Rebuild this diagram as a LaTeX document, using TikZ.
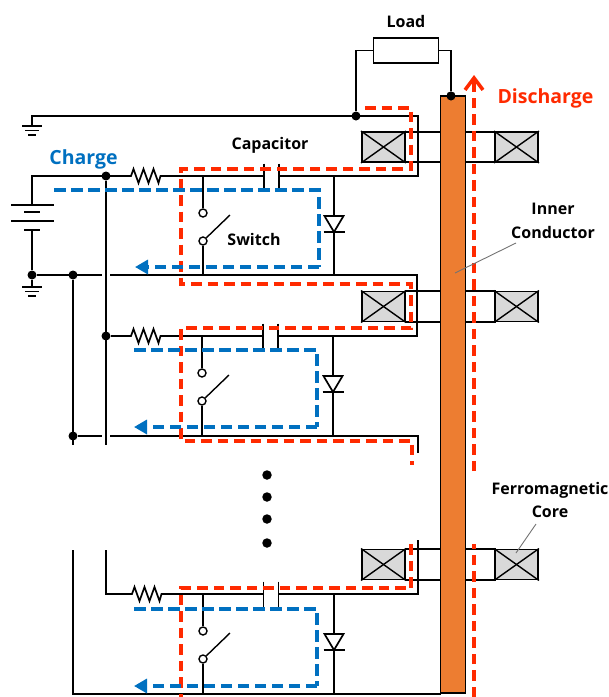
\documentclass[tikz,border=0pt]{standalone}
\usepackage{fontspec}
\setmainfont{Open Sans}
\usetikzlibrary{arrows.meta}
\definecolor{rd}{HTML}{FF2A00}
\definecolor{bl}{HTML}{0070C0}
\definecolor{org}{HTML}{ED7D31}
\definecolor{cg}{HTML}{D9D9D9}
\tikzset{
  wire/.style={line width=1.7pt,black},
  jdot/.style={circle,fill=black,inner sep=0pt,minimum size=9pt},
  bigdot/.style={circle,fill=black,inner sep=0pt,minimum size=9.5pt},
  contact/.style={circle,draw=black,fill=white,line width=1.4pt,inner sep=0pt,minimum size=8pt},
  corebox/.style={draw=black,fill=cg,line width=1.9pt,minimum width=43pt,minimum height=30pt,inner sep=0pt},
  redpath/.style={line width=3.5pt,rd,dash pattern=on 10.5pt off 6pt},
  bluepath/.style={line width=3.5pt,bl,dash pattern=on 11.5pt off 5.5pt},
  lbl/.style={font=\fontsize{16}{18}\selectfont\bfseries,inner sep=0pt,text=black},
  biglbl/.style={font=\fontsize{19.5}{22}\selectfont\bfseries,inner sep=0pt},
  leader/.style={line width=0.9pt,black!55},
  bluetip/.style={-{Triangle[length=13pt,width=14pt]}}
}
% one stage: prefix, wire y, return y, switch x, capacitor left x, diode x, resistor x
\newcommand{\stagecell}[7]{
  % resistor
  \coordinate (#1rl) at (#7,#2);
  \coordinate (#1rr) at (#7+35,#2);
  \draw[wire] (#1rl) -- ++(3,0) -- ++(2.5,-7) -- ++(5,14) -- ++(5,-14) -- ++(5,14) -- ++(5,-14) -- ++(5,14) -- ++(2,-7) -- (#1rr);
  % capacitor
  \coordinate (#1cl) at (#5,#2);
  \coordinate (#1cr) at (#5+15,#2);
  \draw[wire] (#5,#2-12.5) -- (#5,#2+12.5);
  \draw[wire] (#5+15,#2-12.5) -- (#5+15,#2+12.5);
  % switch
  \coordinate (#1st) at (#4,#2);
  \coordinate (#1sb) at (#4,#3);
  \node[contact] (#1s1) at (#4,#2+37) {};
  \node[contact] (#1s2) at (#4,#2+65) {};
  \draw[wire] (#1st) -- (#1s1);
  \draw[wire] (#1s2) -- (#1sb);
  \draw[line width=1.4pt] (#1s2) -- (#4+27,#2+39);
  % diode
  \coordinate (#1dt) at (#6,#2);
  \coordinate (#1db) at (#6,#3);
  \coordinate (#1da) at (#6,#2+40);
  \coordinate (#1dk) at (#6,#2+56);
  \draw[wire] (#1dt) -- (#1da);
  \draw[wire] (#1dk) -- (#1db);
  \draw[wire,line join=miter] (#6-9.5,#2+40) -- (#6+9.5,#2+40) -- (#1dk) -- cycle;
  \draw[wire] (#6-10.5,#2+56) -- (#6+10.5,#2+56);
}
\newcommand{\earth}[2]{
  \draw[wire] (#1-10,#2) -- (#1+10,#2);
  \draw[wire] (#1-7,#2+4.5) -- (#1+7,#2+4.5);
  \draw[wire] (#1-4,#2+9) -- (#1+4,#2+9);
}
\begin{document}
\begin{tikzpicture}[x=1pt,y=-1pt]
\useasboundingbox (0,0) rectangle (609,697);
% named junctions
\node[jdot] (jg) at (356,116) {};
\node[jdot] (jt) at (451,96) {};
\node[jdot] (ja) at (106,176) {};
\node[jdot] (jb) at (32,275) {};
\node[jdot] (jc) at (73,275) {};
\node[jdot] (jd) at (106,336) {};
\node[jdot] (je) at (73,436) {};
% corners
\coordinate (g0) at (32,116); \coordinate (g1) at (32,126);
\coordinate (c1a) at (418,116); \coordinate (c1b) at (418,176);
\coordinate (b0) at (32,176);
\coordinate (b1) at (32,205); \coordinate (b2) at (32,230);
\coordinate (g2) at (32,287);
\coordinate (c2a) at (417,275); \coordinate (c2b) at (417,336);
\coordinate (c3a) at (418,436); \coordinate (c3b) at (418,453);
\coordinate (v1e) at (106,445); \coordinate (v2e) at (73,445);
\coordinate (v3t) at (106,550); \coordinate (v3c) at (106,594);
\coordinate (v4t) at (73,550); \coordinate (v4c) at (73,694);
\coordinate (c4a) at (418,540); \coordinate (c4b) at (418,594);
\coordinate (h1) at (102,275); \coordinate (h2) at (110,275);
\coordinate (h3) at (102,436); \coordinate (h4) at (110,436);
% stages
\stagecell{a}{176}{275}{203}{264}{334}{128}
\stagecell{b}{336}{436}{202}{263}{333}{128}
\stagecell{c}{594}{694}{203}{263.5}{334}{129}
% main wiring
\draw[wire] (g1) -- (g0) -- (c1a) -- (c1b) -- (acr);
\draw[wire] (acl) -- (arr);
\draw[wire] (arl) -- (b0) -- (b1);
\draw[wire] (b2) -- (jb) -- (g2);
\draw[wire] (jb) -- (h1);
\draw[wire] (h2) -- (c2a) -- (c2b) -- (bcr);
\draw[wire] (bcl) -- (brr);
\draw[wire] (brl) -- (jd);
\draw[wire] (ja) -- (v1e);
\draw[wire] (jc) -- (v2e);
\draw[wire] (je) -- (h3);
\draw[wire] (h4) -- (c3a) -- (c3b);
\draw[wire] (v3t) -- (v3c) -- (crl);
\draw[wire] (crr) -- (ccl);
\draw[wire] (ccr) -- (c4b) -- (c4a);
\draw[wire] (v4t) -- (v4c) -- (441,694);
% battery
\draw[wire] (11,205) -- (54,205);
\draw[wire] (24,212) -- (40,212);
\draw[wire] (11,221) -- (54,221);
\draw[wire] (24,230) -- (40,230);
\earth{32}{126}
\earth{32}{287}
% load
\node[draw=black,fill=white,line width=1.7pt,minimum width=65pt,minimum height=25pt,inner sep=0pt] (load) at (406,50.5) {};
\draw[wire] (load.west) -| (jg);
\draw[wire] (load.east) -| (jt);
% core wires and cores
\foreach \n/\yt/\yb in {1/132/162,2/291/322,3/549/580}{
  \draw[wire] (405,\yt) -- (496,\yt);
  \draw[wire] (405,\yb) -- (496,\yb);
  \node[corebox] (cl\n) at (383.5,\yt/2+\yb/2) {};
  \node[corebox] (cr\n) at (516.5,\yt/2+\yb/2) {};
  \draw[line width=1.4pt] (cl\n.north west) -- (cl\n.south east);
  \draw[line width=1.4pt] (cl\n.south west) -- (cl\n.north east);
  \draw[line width=1.4pt] (cr\n.north west) -- (cr\n.south east);
  \draw[line width=1.4pt] (cr\n.south west) -- (cr\n.north east);
}
% rod
\node[draw=black,fill=org,line width=1.7pt,minimum width=25pt,minimum height=597pt,inner sep=0pt] (rod) at (453,394.5) {};
\node[jdot] at (jt) {};
% dots
\node[bigdot] (d1) at (267,475) {};
\node[bigdot] (d2) at (267,497) {};
\node[bigdot] (d3) at (267,519) {};
\node[bigdot] (d4) at (267,543) {};
% red paths
\draw[redpath] (365,108) -- (411,108) -- (411,169) -- (181,169) -- (181,284) -- (411,284) -- (411,328) -- (181,328) -- (181,441) -- (412,441) -- (412,465);
\draw[redpath] (411,544) -- (411,588) -- (181,588) -- (181,697);
\draw[redpath] (474,697) -- (474,544);
\draw[redpath,-{Straight Barb[length=12pt,width=18pt,line width=3.5pt]}] (474,471) -- (474,75);
% blue paths
\draw[bluepath] (54,190) -- (319,190) -- (319,267);
\draw[bluepath,bluetip] (319,267) -- (135,267);
\draw[bluepath] (134,350) -- (317,350) -- (317,427);
\draw[bluepath,bluetip] (317,427) -- (134,427);
\draw[bluepath] (134,609) -- (317,609) -- (317,686);
\draw[bluepath,bluetip] (317,686) -- (134,686);
% leaders
\coordinate (l1a) at (455,273); \coordinate (l1b) at (516,243);
\coordinate (l2a) at (516,553); \coordinate (l2b) at (536,524);
\draw[leader] (l1a) -- (l1b);
\draw[leader] (l2a) -- (l2b);
% labels
\node[lbl] (tload) at (406,21) {Load};
\node[lbl] (tcap) at (270,145) {Capacitor};
\node[lbl] (tsw) at (254,239) {Switch};
\node[lbl] (tin) at (553,209) {Inner};
\node[lbl] (tco) at (553,232) {Conductor};
\node[lbl] (tfe) at (550,490) {Ferromagnetic};
\node[lbl] (tcr) at (550,512) {Core};
\node[biglbl,text=bl] (tch) at (83.5,159) {Charge};
\node[biglbl,text=rd] (tdi) at (545.5,98) {Discharge};
\end{tikzpicture}
\end{document}
